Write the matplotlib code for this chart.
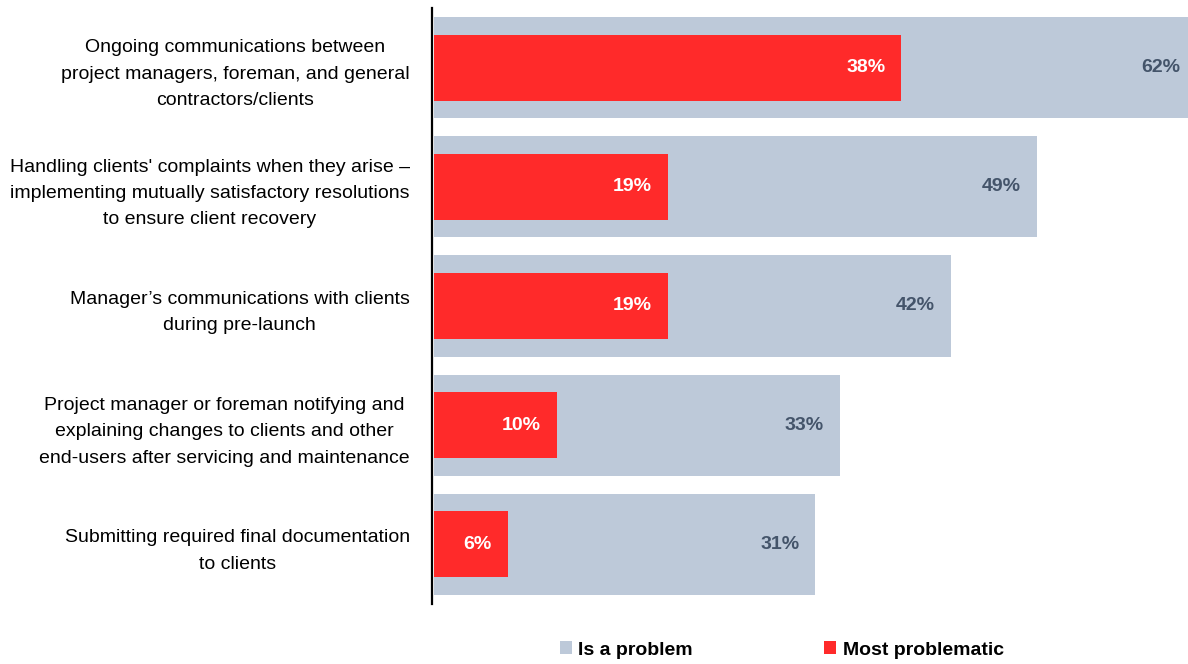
import matplotlib
matplotlib.use("Agg")
import matplotlib.pyplot as plt
from matplotlib.patches import Patch

plt.rcParams['font.family'] = ['Liberation Sans', 'DejaVu Sans']

categories = [
    "Ongoing communications between\nproject managers, foreman, and general\ncontractors/clients",
    "Handling clients' complaints when they arise \u2013\nimplementing mutually satisfactory resolutions\nto ensure client recovery",
    "Manager\u2019s communications with clients\nduring pre-launch",
    "Project manager or foreman notifying and\nexplaining changes to clients and other\nend-users after servicing and maintenance",
    "Submitting required final documentation\nto clients",
]
is_problem = [62, 49, 42, 33, 31]
most_problematic = [38, 19, 19, 10, 6]
series_labels = ["Is a problem", "Most problematic"]

gray = "#BDC9D9"
red = "#FF2A2A"
gray_text = "#44546A"

fig = plt.figure(figsize=(11.88, 6.64), dpi=100)
ax = fig.add_axes([432 / 1188, 1 - 604 / 664, 1 - 432 / 1188, (604 - 8) / 664])

y = list(range(len(categories)))
ax.barh(y, is_problem, height=0.85, color=gray, zorder=1)
ax.barh(y, most_problematic, height=0.555, color=red, zorder=2)

for yi, v in zip(y, is_problem):
    ax.annotate(f"{v}%", (v, yi), xytext=(-11.5, 0), textcoords="offset points",
                ha="right", va="center", fontsize=14, fontweight="bold",
                color=gray_text, zorder=3, annotation_clip=False)
for yi, v in zip(y, most_problematic):
    ax.annotate(f"{v}%", (v, yi), xytext=(-11.5, 0), textcoords="offset points",
                ha="right", va="center", fontsize=14, fontweight="bold",
                color="white", zorder=3)

ax.set_xlim(-0.15, 61.3)
ax.set_ylim(len(categories) - 0.5, -0.5)
ax.set_yticks(y)
ax.set_yticklabels(categories, fontsize=14, multialignment="center", linespacing=1.72)
ax.tick_params(axis="y", length=0, pad=16)
ax.set_xticks([])
for side in ("top", "right", "bottom"):
    ax.spines[side].set_visible(False)
ax.spines["left"].set_linewidth(1.6)
ax.spines["left"].set_color("black")

handles = [Patch(facecolor=gray, edgecolor="none"), Patch(facecolor=red, edgecolor="none")]
fig.legend(handles, series_labels, loc="center", bbox_to_anchor=(782 / 1188, 1 - 650 / 664),
           ncol=2, frameon=False, handlelength=0.62, handleheight=0.62, handletextpad=0.35,
           columnspacing=6.75, prop={"weight": "bold", "size": 14})

fig.savefig("out.png", dpi=100)
